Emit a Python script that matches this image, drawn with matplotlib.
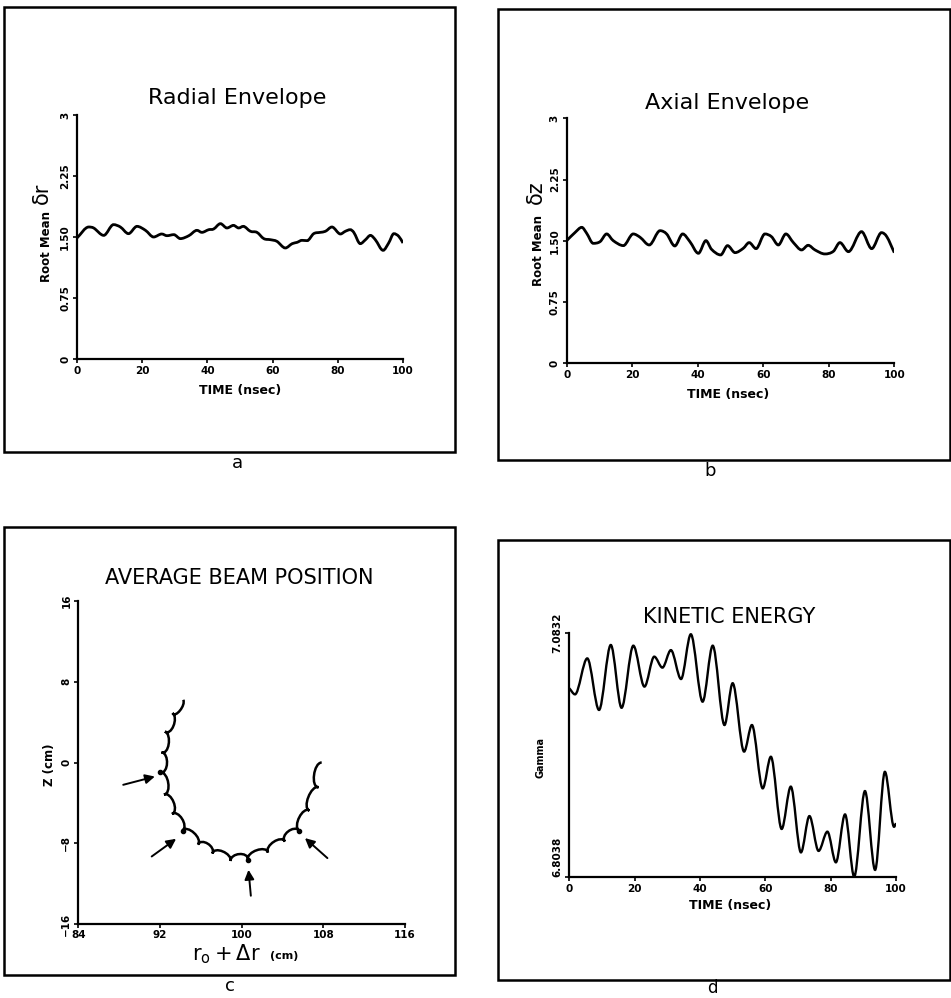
import numpy as np
import matplotlib
matplotlib.use('Agg')
from matplotlib import pyplot as plt
from matplotlib.path import Path
from matplotlib.patches import PathPatch, Rectangle

# ---- data ----

# a: radial envelope (root mean delta r) vs time
t_rad = [0, 3.6, 5.1, 8.2, 11.2, 13.3, 15.8, 18.4, 21, 23.5, 26, 27.6, 29.7, 31.7,
         34.3, 36.8, 38.3, 40.4, 41.9, 44, 46, 48, 49.6, 51, 53.2, 55.2, 57.3, 59.3,
         61.3, 63.9, 66, 67.5, 69, 70.6, 72.6, 74.6, 76.2, 78.2, 80.8, 82.3, 83.8,
         84.9, 86.9, 88.5, 90, 91.5, 93.9, 95.6, 97.2, 98.7, 100]
rad_env = [1.488, 1.623, 1.611, 1.520, 1.652, 1.623, 1.541, 1.631, 1.582, 1.500, 1.537,
           1.516, 1.529, 1.480, 1.516, 1.582, 1.557, 1.590, 1.598, 1.664, 1.611, 1.643,
           1.611, 1.631, 1.570, 1.557, 1.480, 1.467, 1.447, 1.365, 1.418, 1.434, 1.459,
           1.455, 1.541, 1.557, 1.570, 1.623, 1.537, 1.570, 1.590, 1.557, 1.418, 1.467,
           1.520, 1.467, 1.336, 1.426, 1.541, 1.508, 1.426]

# b: axial envelope (root mean delta z) vs time
t_ax = [0, 2.5, 4.6, 6.1, 8.1, 10.2, 12.2, 14.2, 17.3, 20.3, 22.4, 25.2, 28.5, 30.5,
        33, 35.4, 37.6, 40.2, 42.5, 44.2, 47, 49.1, 51.4, 53.9, 55.7, 57.8, 60.5,
        62.5, 64.6, 66.9, 69.2, 71.7, 73.7, 75.8, 78.8, 81.4, 83.4, 86, 90, 93.1,
        96.1, 97.7, 100]
ax_env = [1.502, 1.600, 1.665, 1.592, 1.469, 1.490, 1.584, 1.502, 1.441, 1.584, 1.543,
          1.449, 1.624, 1.584, 1.437, 1.584, 1.490, 1.347, 1.502, 1.396, 1.327, 1.441,
          1.355, 1.408, 1.478, 1.404, 1.584, 1.551, 1.449, 1.584, 1.478, 1.388, 1.445,
          1.388, 1.339, 1.371, 1.478, 1.367, 1.612, 1.404, 1.600, 1.551, 1.355]

# c: average beam position, cusps of the orbit and mid-points of the arcs between them
cusp_r = [94.28, 93.23, 92.49, 92.15, 92.05, 92.39, 93.18, 94.21, 95.72, 97.14, 98.91,
          100.62, 102.58, 104.24, 105.62, 106.64, 107.53, 107.84]
cusp_z = [6.21, 4.89, 3.07, 1.02, -0.99, -3.17, -5.10, -6.74, -8.13, -9.02, -9.76,
          -9.61, -8.92, -7.83, -6.74, -4.76, -2.45, 0.0]
arc_r = [93.96, 93.32, 92.85, 92.69, 92.81, 93.33, 94.16, 95.33, 96.68, 98.15, 99.77,
         101.47, 103.15, 104.55, 105.65, 106.53, 107.09]
arc_z = [5.15, 3.62, 1.80, -0.08, -2.02, -3.91, -5.57, -6.97, -8.04, -8.81, -9.07,
         -8.69, -7.85, -6.83, -5.41, -3.42, -1.23]
marked = [4, 7, 11, 14]
arrow_tail = [(88.4, -2.21), (91.19, -9.31), (100.9, -13.2), (108.4, -9.47)]
arrow_head = [(91.5, -1.39), (93.58, -7.56), (100.67, -10.63), (106.2, -7.49)]

# d: kinetic energy (gamma) vs time, extrema of the oscillation
t_ke = [0, 1.75, 5.5, 9.1, 12.7, 16.0, 19.6, 23.0, 26.0, 28.5, 31.1, 34.2, 37.2, 40.8,
        43.9, 47.5, 50.0, 53.5, 55.9, 59.2, 61.7, 65.0, 67.8, 70.9, 73.5, 76.3, 79.0,
        81.6, 84.4, 87.2, 90.5, 93.6, 96.6, 99.4, 100]
gamma = [7.0201, 7.0131, 7.0544, 6.9952, 7.0698, 6.9977, 7.0690, 7.0220, 7.0564, 7.0438,
         7.0639, 7.0307, 7.0821, 7.0047, 7.0690, 6.9779, 7.0259, 6.9474, 6.9779, 6.9052,
         6.9415, 6.8586, 6.9072, 6.8317, 6.8734, 6.8334, 6.8555, 6.8203, 6.8753, 6.8038,
         6.9021, 6.8116, 6.9242, 6.8611, 6.8653]

time_ticks = [0, 20, 40, 60, 80, 100]
env_ticks = [0, 0.75, 1.5, 2.25, 3]
env_labels = ['0', '0.75', '1.50', '2.25', '3']
r_ticks = [84, 92, 100, 108, 116]
z_ticks = [-16, -8, 0, 8, 16]
g_ticks = [6.8038, 7.0832]

W, H = 951, 998


def rect(l, t, r, b):
    return [l / W, 1 - b / H, (r - l) / W, (b - t) / H]


def ftext(X, Y, s, **kw):
    fig.text(X / W, 1 - Y / H, s, ha='center', va='center', **kw)


def smooth(x, y):
    # cubic hermite through the read points, flat at turning points
    x = np.asarray(x, float)
    y = np.asarray(y, float)
    n = len(x)
    m = np.zeros(n)
    m[0] = (y[1] - y[0]) / (x[1] - x[0])
    m[-1] = (y[-1] - y[-2]) / (x[-1] - x[-2])
    for i in range(1, n - 1):
        if (y[i] - y[i - 1]) * (y[i + 1] - y[i]) > 0:
            m[i] = (y[i + 1] - y[i - 1]) / (x[i + 1] - x[i - 1])
    verts = [(x[0], y[0])]
    codes = [Path.MOVETO]
    for i in range(n - 1):
        h = (x[i + 1] - x[i]) / 3
        verts += [(x[i] + h, y[i] + m[i] * h), (x[i + 1] - h, y[i + 1] - m[i + 1] * h),
                  (x[i + 1], y[i + 1])]
        codes += [Path.CURVE4] * 3
    return Path(verts, codes)


def scallops(cx, cz, mx, mz):
    verts = [(cx[0], cz[0])]
    codes = [Path.MOVETO]
    for i in range(len(mx)):
        dx = (mx[i] - (cx[i] + cx[i + 1]) / 2) * 4 / 3
        dz = (mz[i] - (cz[i] + cz[i + 1]) / 2) * 4 / 3
        verts += [(cx[i] + dx, cz[i] + dz), (cx[i + 1] + dx, cz[i + 1] + dz),
                  (cx[i + 1], cz[i + 1])]
        codes += [Path.CURVE4] * 3
    return Path(verts, codes)


def style(ax):
    for s in ['top', 'right']:
        ax.spines[s].set_visible(False)
    for s in ['left', 'bottom']:
        ax.spines[s].set_linewidth(1.6)
    ax.tick_params(direction='out', length=3, width=1.2, labelsize=7.5, pad=2)
    ax.tick_params(axis='y', labelrotation=90)
    for lab in ax.get_xticklabels() + ax.get_yticklabels():
        lab.set_fontweight('bold')
    for lab in ax.get_yticklabels():
        lab.set_va('center')


plt.rcParams['font.family'] = ['DejaVu Sans']
fig = plt.figure(figsize=(9.51, 9.98), dpi=100)

# panel frames
for l, t, r, b in [(4, 7, 455, 452), (498, 9, 950, 460), (4, 527, 455, 975), (498, 540, 950, 980)]:
    fig.patches.append(Rectangle((l / W, 1 - b / H), (r - l) / W, (b - t) / H, fill=False,
                                 lw=1.8, ec='black', transform=fig.transFigure))

# a
ax1 = fig.add_axes(rect(77, 115, 403, 359))
ax1.add_patch(PathPatch(smooth(t_rad, rad_env), fill=False, lw=2.0, ec='black'))
ax1.set_xlim(0, 100)
ax1.set_ylim(0, 3)
ax1.set_xticks(time_ticks)
ax1.set_yticks(env_ticks, env_labels)
style(ax1)
ftext(237, 98, 'Radial Envelope', fontsize=16)
ftext(47, 247, 'Root Mean', fontsize=8.5, fontweight='bold', rotation=90)
ftext(42, 193, 'δr', fontsize=15, rotation=90)
ftext(240, 390, 'TIME (nsec)', fontsize=9, fontweight='bold')
ftext(237, 463, 'a', fontsize=13)

# b
ax2 = fig.add_axes(rect(566.7, 118.3, 894.3, 363.3))
ax2.add_patch(PathPatch(smooth(t_ax, ax_env), fill=False, lw=2.0, ec='black'))
ax2.set_xlim(0, 100)
ax2.set_ylim(0, 3)
ax2.set_xticks(time_ticks)
ax2.set_yticks(env_ticks, env_labels)
style(ax2)
ftext(727, 103, 'Axial Envelope', fontsize=16)
ftext(538, 251, 'Root Mean', fontsize=8.5, fontweight='bold', rotation=90)
ftext(536, 192, 'δz', fontsize=15, rotation=90)
ftext(728, 394, 'TIME (nsec)', fontsize=9, fontweight='bold')
ftext(710, 471, 'b', fontsize=13)

# c
ax3 = fig.add_axes(rect(78.3, 601, 405, 924))
ax3.add_patch(PathPatch(scallops(cusp_r, cusp_z, arc_r, arc_z), fill=False, lw=1.8, ec='black'))
ax3.plot([cusp_r[i] for i in marked], [cusp_z[i] for i in marked], 'o', color='black', ms=3)
for tail, head in zip(arrow_tail, arrow_head):
    ax3.annotate('', xy=head, xytext=tail,
                 arrowprops=dict(arrowstyle='-|>', lw=1.4, color='black', mutation_scale=14,
                                 shrinkA=0, shrinkB=0))
ax3.set_xlim(84, 116)
ax3.set_ylim(-16, 16)
ax3.set_xticks(r_ticks)
ax3.set_yticks(z_ticks)
style(ax3)
ax3.tick_params(axis='x', pad=1)
ftext(239, 578, 'AVERAGE BEAM POSITION', fontsize=15)
ftext(50, 765, 'Z (cm)', fontsize=8.5, fontweight='bold', rotation=90)
ftext(226, 954, r'$\mathregular{r_o+\Delta r}$', fontsize=15)
ftext(284, 956, '(cm)', fontsize=8, fontweight='bold')
ftext(230, 986, 'c', fontsize=13)

# d
ax4 = fig.add_axes(rect(569.3, 633.3, 896, 876.7))
ax4.add_patch(PathPatch(smooth(t_ke, gamma), fill=False, lw=1.7, ec='black'))
ax4.set_xlim(0, 100)
ax4.set_ylim(6.8038, 7.0832)
ax4.set_xticks(time_ticks)
ax4.set_yticks(g_ticks, ['6.8038', '7.0832'])
style(ax4)
ax4.get_yticklabels()[0].set_va('bottom')
ftext(729, 617, 'KINETIC ENERGY', fontsize=15)
ftext(540, 757, 'Gamma', fontsize=7, fontweight='bold', rotation=90)
ftext(730, 905, 'TIME (nsec)', fontsize=9, fontweight='bold')
ftext(712, 988, 'd', fontsize=12)

fig.savefig('out.png', dpi=100)
